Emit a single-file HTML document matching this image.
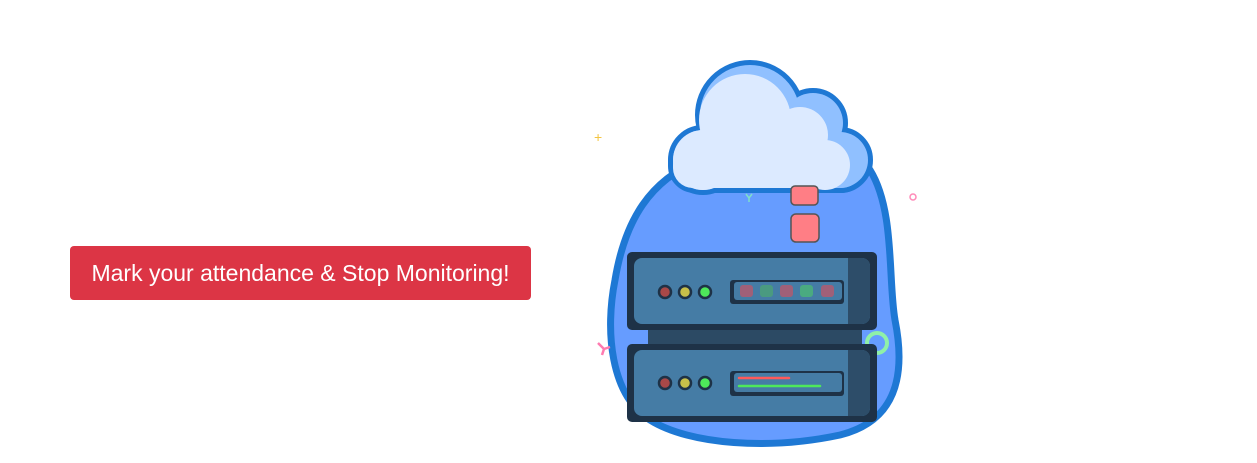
<!DOCTYPE html>
<html><head><style>
html,body{margin:0;padding:0;background:#fff;width:1257px;height:463px;overflow:hidden}
.btn{position:absolute;left:70px;top:246px;width:461px;height:54px;background:#dc3545;border-radius:4px;color:#fff;font:23px "Liberation Sans",sans-serif;display:flex;align-items:center;justify-content:center}
svg{position:absolute;left:0;top:0}
</style></head><body>
<div class="btn">Mark your attendance &amp; Stop Monitoring!</div>
<svg width="1257" height="463" viewBox="0 0 1257 463">
<!-- blob -->
<path d="M700,160 C760,140 840,130 870,170 C895,210 888,280 895,320 C905,370 900,420 840,435 C770,450 690,445 650,420 C610,395 605,330 615,280 C625,220 650,180 700,160 Z" fill="#669cff" stroke="#1e78d4" stroke-width="7"/>
<!-- cloud -->
<g stroke="#1e78d4" stroke-width="10" fill="#1e78d4">
<circle cx="703" cy="160" r="30"/><circle cx="750" cy="115" r="50"/><circle cx="813" cy="123" r="30"/><circle cx="840" cy="160" r="28"/><rect x="673" y="140" width="190" height="48" rx="22"/>
</g>
<g fill="#90c0ff">
<circle cx="703" cy="160" r="30"/><circle cx="750" cy="115" r="50"/><circle cx="813" cy="123" r="30"/><circle cx="840" cy="160" r="28"/><rect x="673" y="140" width="190" height="48" rx="22"/>
</g>
<g fill="#dceaff">
<circle cx="703" cy="160" r="30"/><circle cx="745" cy="120" r="46"/><circle cx="800" cy="135" r="28"/><circle cx="825" cy="165" r="25"/><rect x="673" y="145" width="175" height="43" rx="20"/>
</g>
<!-- sparkles -->
<text x="594" y="142" font-size="14" fill="#f4c542" font-family="Liberation Sans">+</text>
<circle cx="913" cy="197" r="3" fill="none" stroke="#ff8ab8" stroke-width="1.5"/>
<path d="M746,194 l3,4 l3,-4 M749,198 v4" stroke="#7ee0c8" stroke-width="1.5" fill="none"/>
<path d="M598,343 l6,6 l6,-2 M604,349 l-2,6" stroke="#ff7ab0" stroke-width="2.5" fill="none"/>
<circle cx="877" cy="343" r="10" fill="none" stroke="#8ff0a8" stroke-width="4"/>
<!-- pink squares -->
<rect x="791" y="186" width="27" height="19" rx="4" fill="#ff7e85" stroke="#555" stroke-width="1.5"/>
<rect x="791" y="214" width="28" height="28" rx="5" fill="#ff7e85" stroke="#555" stroke-width="1.5"/>
<!-- connector -->
<rect x="648" y="328" width="214" height="18" fill="#2c4a64"/>
<!-- top server -->
<rect x="627" y="252" width="250" height="78" rx="5" fill="#1e3247"/>
<rect x="634" y="258" width="236" height="66" rx="8" fill="#457ca5"/>
<path d="M848,258 h14 a8,8 0 0 1 8,8 v50 a8,8 0 0 1 -8,8 h-14 z" fill="#2d4d69"/>
<circle cx="665" cy="292" r="6" fill="#a84848" stroke="#1e3247" stroke-width="2.5"/>
<circle cx="685" cy="292" r="6" fill="#c8c04a" stroke="#1e3247" stroke-width="2.5"/>
<circle cx="705" cy="292" r="6" fill="#4ee85a" stroke="#1e3247" stroke-width="2.5"/>
<rect x="730" y="280" width="114" height="24" rx="3" fill="#1e3247"/>
<rect x="734" y="282" width="108" height="18" rx="3" fill="#457ca5"/>
<rect x="740" y="285" width="13" height="12" rx="3" fill="#a06078"/>
<rect x="760" y="285" width="13" height="12" rx="3" fill="#4a9a80"/>
<rect x="780" y="285" width="13" height="12" rx="3" fill="#a06078"/>
<rect x="800" y="285" width="13" height="12" rx="3" fill="#4aaa80"/>
<rect x="821" y="285" width="13" height="12" rx="3" fill="#a06078"/>
<!-- bottom server -->
<rect x="627" y="344" width="250" height="78" rx="5" fill="#1e3247"/>
<rect x="634" y="350" width="236" height="66" rx="8" fill="#457ca5"/>
<path d="M848,350 h14 a8,8 0 0 1 8,8 v50 a8,8 0 0 1 -8,8 h-14 z" fill="#2d4d69"/>
<circle cx="665" cy="383" r="6" fill="#a84848" stroke="#1e3247" stroke-width="2.5"/>
<circle cx="685" cy="383" r="6" fill="#c8c04a" stroke="#1e3247" stroke-width="2.5"/>
<circle cx="705" cy="383" r="6" fill="#4ee85a" stroke="#1e3247" stroke-width="2.5"/>
<rect x="730" y="371" width="114" height="25" rx="3" fill="#1e3247"/>
<rect x="734" y="373" width="108" height="19" rx="3" fill="#457ca5"/>
<line x1="739" y1="378" x2="789" y2="378" stroke="#ff5a5a" stroke-width="2.5" stroke-linecap="round"/>
<line x1="739" y1="386" x2="820" y2="386" stroke="#4ee85a" stroke-width="2.5" stroke-linecap="round"/>
</svg>
</body></html>
